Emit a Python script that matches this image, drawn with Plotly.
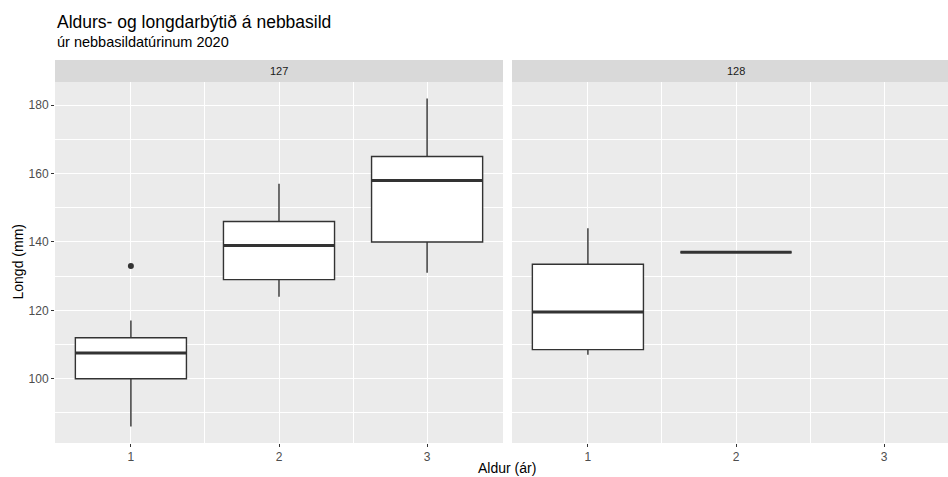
import plotly.graph_objects as go

# Five-number summaries of length (mm) per age group, one set per facet
ages_127 = [1, 2, 3]
low_127 = [86, 124, 131]
q1_127 = [100, 129, 140]
med_127 = [107.5, 139, 158]
q3_127 = [112, 146, 165]
high_127 = [117, 157, 182]
outlier_age_127 = [1]
outlier_len_127 = [133]

ages_128 = [1, 2]
low_128 = [107, 137]
q1_128 = [108.5, 137]
med_128 = [119.5, 137]
q3_128 = [133.5, 137]
high_128 = [144, 137]

facet_labels = ["127", "128"]
y_ticks = [100, 120, 140, 160, 180]
x_ticks = [1, 2, 3]
x_minor = [1.5, 2.5]

title = "Aldurs- og longdarbýtið á nebbasild"
subtitle = "úr nebbasildatúrinum 2020"
x_title = "Aldur (ár)"
y_title = "Longd (mm)"

W, H = 948, 477
L, R, T, B = 55, 0, 82, 34
plot_w = W - L - R
plot_h = H - T - B
strip_h = 22
box_w = 0.75
line_col = "#333333"
font = "Liberation Sans, Arial, sans-serif"

fig = go.Figure()


def add_facet(xa, ya, ages, low, q1, med, q3, high):
    fig.add_trace(go.Box(
        x=ages, lowerfence=low, q1=q1, median=med, q3=q3, upperfence=high,
        width=box_w, whiskerwidth=0, boxpoints=False,
        fillcolor="white", line=dict(color=line_col, width=1.4),
        xaxis=xa, yaxis=ya, showlegend=False, hoverinfo="skip",
    ))
    # thicker median bars
    mx, my = [], []
    for a, m in zip(ages, med):
        mx += [a - box_w / 2, a + box_w / 2, None]
        my += [m, m, None]
    fig.add_trace(go.Scatter(
        x=mx, y=my, mode="lines", line=dict(color=line_col, width=3),
        xaxis=xa, yaxis=ya, showlegend=False, hoverinfo="skip",
    ))


add_facet("x", "y", ages_127, low_127, q1_127, med_127, q3_127, high_127)
fig.add_trace(go.Scatter(
    x=outlier_age_127, y=outlier_len_127, mode="markers",
    marker=dict(color=line_col, size=6), showlegend=False, hoverinfo="skip",
    xaxis="x", yaxis="y",
))
add_facet("x2", "y2", ages_128, low_128, q1_128, med_128, q3_128, high_128)

# panel geometry
x_lo = 0.4875
px_per_unit = 448 / 3.025
p1 = [0, 448 / plot_w]
p2 = [(512 - L) / plot_w, 1]
x2_hi = x_lo + (W - 512) / px_per_unit
y_range = [81.2, 186.8]

axis_common = dict(
    showline=False, zeroline=False, showgrid=True, gridcolor="white",
    gridwidth=1.1, ticklen=3, tickwidth=1.1,
    tickcolor=line_col, tickfont=dict(family=font, size=12, color="#4D4D4D"),
)
x_minor_grid = dict(tickvals=x_minor, showgrid=True, gridcolor="white", gridwidth=0.5, ticks="")
y_minor_grid = dict(dtick=10, tick0=0, showgrid=True, gridcolor="white", gridwidth=0.5, ticks="")

fig.update_layout(
    width=W, height=H,
    margin=dict(l=L, r=R, t=T, b=B, pad=0),
    paper_bgcolor="white", plot_bgcolor="#EBEBEB",
    xaxis=dict(domain=p1, range=[x_lo, 3.5125], tickvals=x_ticks, ticks="outside",
               minor=x_minor_grid, anchor="y", **axis_common),
    xaxis2=dict(domain=p2, range=[x_lo, x2_hi], tickvals=x_ticks, ticks="outside",
                minor=x_minor_grid, anchor="y2", **axis_common),
    yaxis=dict(domain=[0, 1], range=y_range, tickvals=y_ticks, ticks="outside",
               minor=y_minor_grid, anchor="x", **axis_common),
    yaxis2=dict(domain=[0, 1], range=y_range, tickvals=y_ticks, showticklabels=False, ticks="",
                minor=y_minor_grid, anchor="x2", **axis_common),
    showlegend=False,
)

# facet strips
strip_top = 1 + strip_h / plot_h
for dom, lab, cx in [(p1, facet_labels[0], (p1[0] + p1[1]) / 2),
                     (p2, facet_labels[1], (736 - L) / plot_w)]:
    fig.add_shape(type="rect", xref="paper", yref="paper",
                  x0=dom[0], x1=dom[1], y0=1, y1=strip_top,
                  fillcolor="#D9D9D9", line=dict(width=0), layer="below")
    fig.add_annotation(text=lab, xref="paper", yref="paper", x=cx, y=(1 + strip_top) / 2,
                       xanchor="center", yanchor="middle", showarrow=False,
                       font=dict(family=font, size=11, color="#1A1A1A"))


def py(pix):
    return (H - B - pix) / plot_h


fig.add_annotation(text=title, xref="paper", yref="paper", x=0, y=py(22.5),
                   xanchor="left", yanchor="middle", showarrow=False,
                   font=dict(family=font, size=17.5, color="black"))
fig.add_annotation(text=subtitle, xref="paper", yref="paper", x=0, y=py(42),
                   xanchor="left", yanchor="middle", showarrow=False,
                   font=dict(family=font, size=14.5, color="black"))
fig.add_annotation(text=x_title, xref="paper", yref="paper", x=(507.5 - L) / plot_w, y=py(468),
                   xanchor="center", yanchor="middle", showarrow=False,
                   font=dict(family=font, size=14, color="black"))
fig.add_annotation(text=y_title, xref="paper", yref="paper", x=(17 - L) / plot_w, y=py(262.5),
                   xanchor="center", yanchor="middle", showarrow=False, textangle=-90,
                   font=dict(family=font, size=14, color="black"))

fig.write_html("out.html")
